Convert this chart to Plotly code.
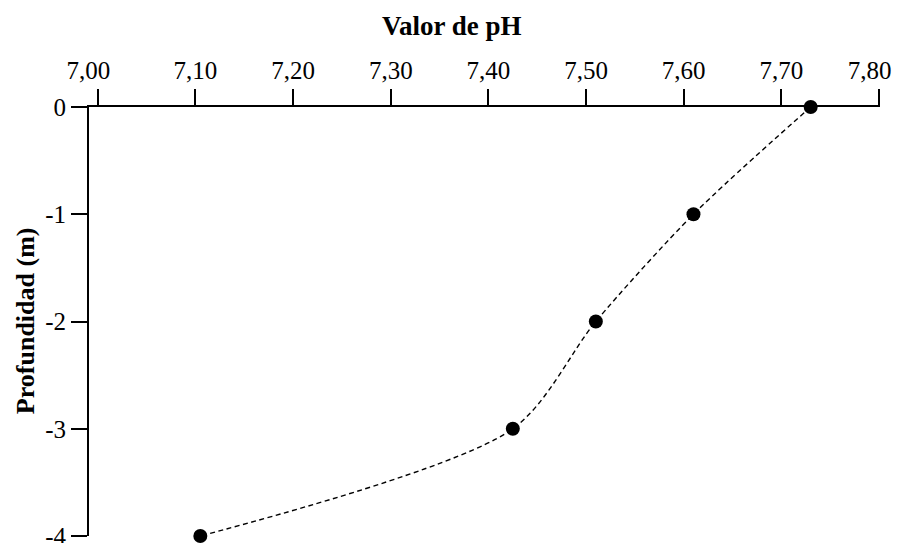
import plotly.graph_objects as go

# Data
ph_values = [7.73, 7.61, 7.51, 7.425, 7.105]
depths = [0, -1, -2, -3, -4]

x_tickvals = [7.0, 7.1, 7.2, 7.3, 7.4, 7.5, 7.6, 7.7, 7.8]
x_ticktext = ["7,00\u00a0\u00a0\u00a0", "7,10", "7,20", "7,30", "7,40", "7,50", "7,60", "7,70",
              "7,80\u00a0\u00a0\u00a0"]
y_tickvals = [0, -1, -2, -3, -4]
y_ticktext = ["0", "-1", "-2", "-3", "-4"]

FONT = "Liberation Serif, Times New Roman, serif"

fig = go.Figure()
fig.add_trace(go.Scatter(
    x=ph_values, y=depths,
    mode="lines+markers",
    line=dict(color="black", width=1.4, dash="5px,3.5px", shape="spline", smoothing=0.8),
    marker=dict(color="black", size=14),
    cliponaxis=False,
    showlegend=False,
))

fig.update_layout(
    width=898, height=543,
    margin=dict(l=89, r=18, t=107, b=7),
    paper_bgcolor="white", plot_bgcolor="white",
    font=dict(family=FONT, color="black", size=25),
    xaxis=dict(
        side="top", range=[6.991, 7.801], automargin=False,
        tickvals=x_tickvals, ticktext=x_ticktext,
        ticks="outside", ticklen=16, tickwidth=1.5, tickcolor="black",
        showline=True, linecolor="black", linewidth=2,
        showgrid=False, zeroline=False, ticklabeloverflow="allow",
        tickfont=dict(family=FONT, size=25, color="black"),
    ),
    yaxis=dict(
        range=[-4, 0], automargin=False,
        tickvals=y_tickvals, ticktext=y_ticktext,
        ticks="outside", ticklen=16, tickwidth=1.5, tickcolor="black",
        showline=True, linecolor="black", linewidth=2,
        showgrid=False, zeroline=False, ticklabeloverflow="allow",
        tickfont=dict(family=FONT, size=25, color="black"),
    ),
    annotations=[
        dict(text="<b>Valor de pH</b>", xref="paper", yref="paper",
             x=0.4595, y=1.189, xanchor="center", yanchor="middle",
             showarrow=False, font=dict(family=FONT, size=27, color="black")),
        dict(text="<b>Profundidad (m)</b>", xref="paper", yref="paper",
             x=-0.081, y=0.503, xanchor="center", yanchor="middle", textangle=-90,
             showarrow=False, font=dict(family=FONT, size=26, color="black")),
    ],
)

fig.write_html("out.html")
